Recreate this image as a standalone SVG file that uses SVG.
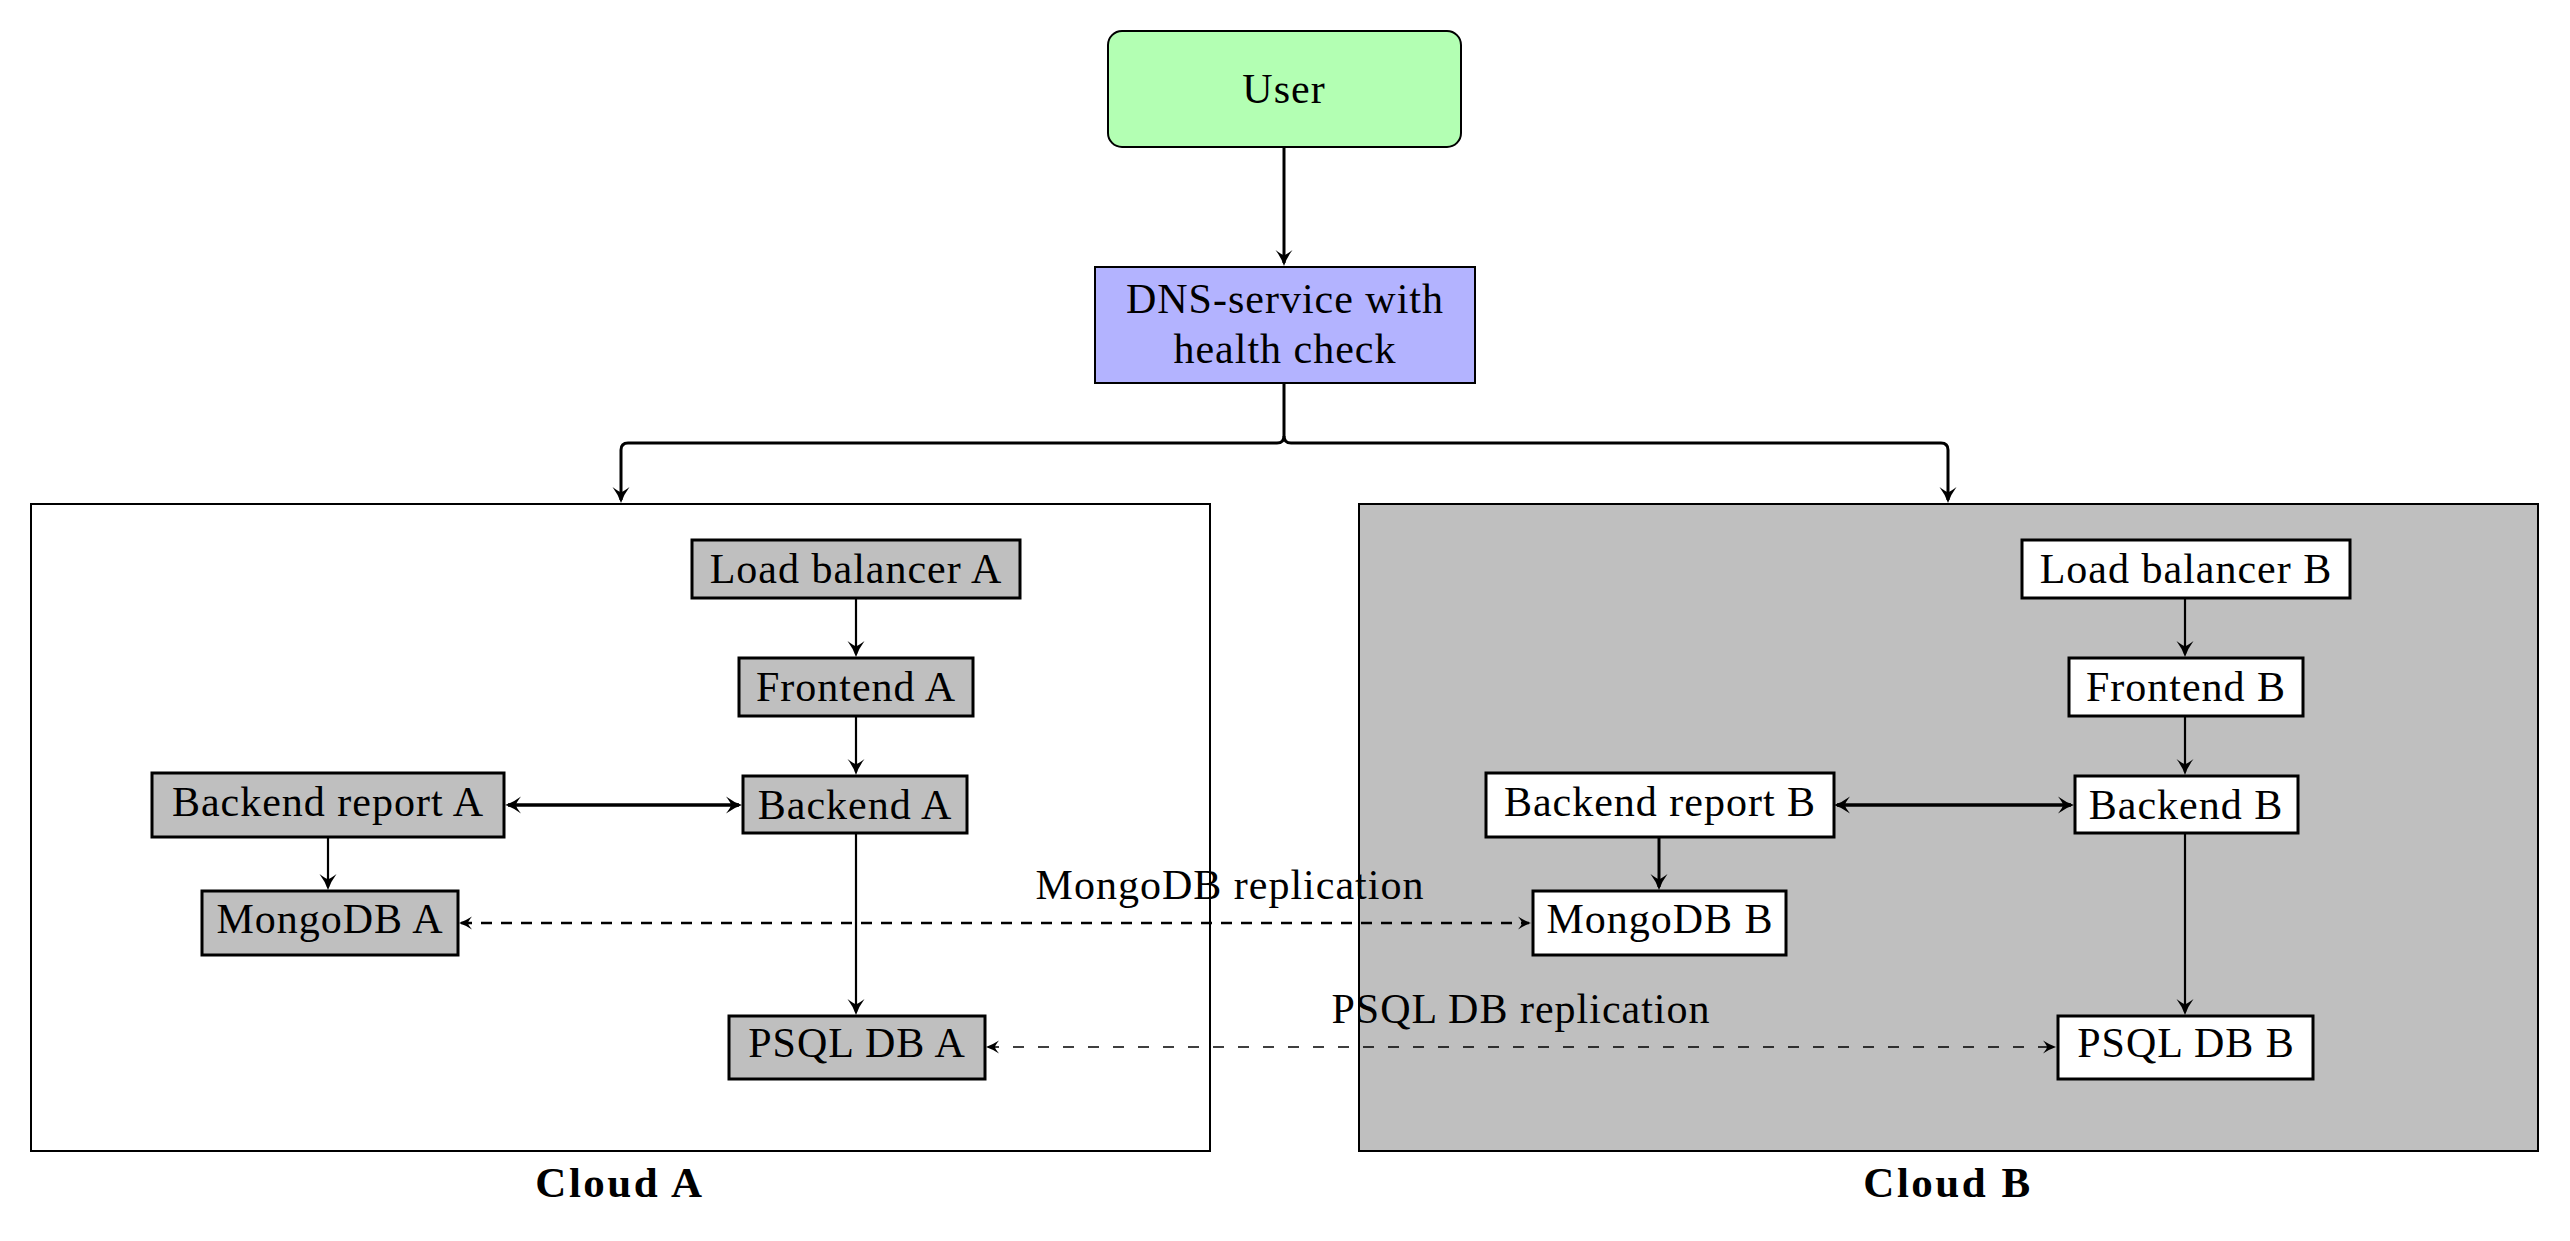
<svg xmlns="http://www.w3.org/2000/svg" width="2570" height="1241" viewBox="0 0 2570 1241">
<style>
  .txt { font-family: "Liberation Serif", "DejaVu Serif", serif; font-size: 42px; letter-spacing: 1px; text-anchor: middle; fill: #000; }
  .bold { font-weight: bold; font-size: 43px; letter-spacing: 2.5px; }
  .node { stroke: #000; stroke-width: 3; }
  .gray { fill: #bfbfbf; }
  .white { fill: #ffffff; }
  .cloud { stroke: #000; stroke-width: 2; }
  .conn { fill: none; stroke: #000; }
  .thick { stroke-width: 3; }
  .med { stroke-width: 2.2; }
  .bi { stroke-width: 3.5; }
  .dash1 { stroke-width: 2.5; stroke-dasharray: 11 9; }
  .dash2 { stroke-width: 1.4; stroke-dasharray: 11 14; }
</style>
<defs>
  <marker id="big" viewBox="-20 -10 22 20" markerWidth="22" markerHeight="20" refX="-3" refY="0" markerUnits="userSpaceOnUse" orient="auto-start-reverse" overflow="visible">
    <path d="M0,0 Q-8,-2.5 -16,-8.5 Q-11,-2 -11,0 Q-11,2 -16,8.5 Q-8,2.5 0,0Z" fill="#000"/>
  </marker>
  <marker id="mid" viewBox="-16 -8 18 16" markerWidth="18" markerHeight="16" refX="-2" refY="0" markerUnits="userSpaceOnUse" orient="auto-start-reverse" overflow="visible">
    <path d="M0,0 Q-6,-2 -13,-6.5 Q-9,-1.5 -9,0 Q-9,1.5 -13,6.5 Q-6,2 0,0Z" fill="#000"/>
  </marker>
</defs>

<rect width="2570" height="1241" fill="#ffffff"/>

<g id="cloudA">
  <rect class="cloud white" x="31" y="504" width="1179" height="647"/>
  <text class="txt bold" x="620" y="1197">Cloud A</text>
</g>
<g id="cloudB">
  <rect class="cloud gray" x="1359" y="504" width="1179" height="647"/>
  <text class="txt bold" x="1948" y="1197">Cloud B</text>
</g>

<g id="connectors">
  <path class="conn thick" marker-end="url(#big)" d="M1284,148 V263"/>
  <path class="conn thick" marker-end="url(#big)" d="M1284,384 V436 Q1284,443 1277,443 H628 Q621,443 621,450 V500"/>
  <path class="conn thick" marker-end="url(#big)" d="M1284,436 Q1284,443 1291,443 H1941 Q1948,443 1948,450 V500"/>

  <path class="conn med" marker-end="url(#big)" d="M856,599 V654"/>
  <path class="conn med" marker-end="url(#big)" d="M856,717 V772"/>
  <path class="conn med" marker-end="url(#big)" d="M856,834 V1012"/>
  <path class="conn bi" marker-start="url(#big)" marker-end="url(#big)" d="M508,805 H739"/>
  <path class="conn med" marker-end="url(#big)" d="M328,838 V887"/>

  <path class="conn med" marker-end="url(#big)" d="M2185,599 V654"/>
  <path class="conn med" marker-end="url(#big)" d="M2185,717 V772"/>
  <path class="conn med" marker-end="url(#big)" d="M2185,834 V1012"/>
  <path class="conn bi" marker-start="url(#big)" marker-end="url(#big)" d="M1837,805 H2071"/>
  <path class="conn thick" marker-end="url(#big)" d="M1659,838 V887"/>

  <path class="conn dash1" marker-start="url(#mid)" marker-end="url(#mid)" d="M461,923 H1529"/>
  <text class="txt" x="1230" y="899">MongoDB replication</text>
  <path class="conn dash2" marker-start="url(#mid)" marker-end="url(#mid)" d="M988,1047 H2054"/>
  <text class="txt" x="1521" y="1023">PSQL DB replication</text>
</g>

<g id="user">
  <rect x="1108" y="31" width="353" height="116" rx="14" ry="14" fill="#b3ffb3" stroke="#000" stroke-width="2"/>
  <text class="txt" x="1284" y="103">User</text>
</g>
<g id="dns">
  <rect x="1095" y="267" width="380" height="116" fill="#b3b3ff" stroke="#000" stroke-width="2"/>
  <text class="txt" x="1285" y="313">DNS-service with</text>
  <text class="txt" x="1285" y="363">health check</text>
</g>

<g id="lbA">
  <rect class="node gray" x="692" y="540" width="328" height="58"/>
  <text class="txt" x="856" y="583">Load balancer A</text>
</g>
<g id="feA">
  <rect class="node gray" x="739" y="658" width="234" height="58"/>
  <text class="txt" x="856" y="701">Frontend A</text>
</g>
<g id="beA">
  <rect class="node gray" x="743" y="776" width="224" height="57"/>
  <text class="txt" x="855" y="819">Backend A</text>
</g>
<g id="brA">
  <rect class="node gray" x="152" y="773" width="352" height="64"/>
  <text class="txt" x="328" y="816">Backend report A</text>
</g>
<g id="mongoA">
  <rect class="node gray" x="202" y="891" width="256" height="64"/>
  <text class="txt" x="330" y="933">MongoDB A</text>
</g>
<g id="psqlA">
  <rect class="node gray" x="729" y="1016" width="256" height="63"/>
  <text class="txt" x="857" y="1057">PSQL DB A</text>
</g>

<g id="lbB">
  <rect class="node white" x="2022" y="540" width="328" height="58"/>
  <text class="txt" x="2186" y="583">Load balancer B</text>
</g>
<g id="feB">
  <rect class="node white" x="2069" y="658" width="234" height="58"/>
  <text class="txt" x="2186" y="701">Frontend B</text>
</g>
<g id="beB">
  <rect class="node white" x="2075" y="776" width="223" height="57"/>
  <text class="txt" x="2186" y="819">Backend B</text>
</g>
<g id="brB">
  <rect class="node white" x="1486" y="773" width="348" height="64"/>
  <text class="txt" x="1660" y="816">Backend report B</text>
</g>
<g id="mongoB">
  <rect class="node white" x="1533" y="891" width="253" height="64"/>
  <text class="txt" x="1660" y="933">MongoDB B</text>
</g>
<g id="psqlB">
  <rect class="node white" x="2058" y="1016" width="255" height="63"/>
  <text class="txt" x="2186" y="1057">PSQL DB B</text>
</g>
</svg>
